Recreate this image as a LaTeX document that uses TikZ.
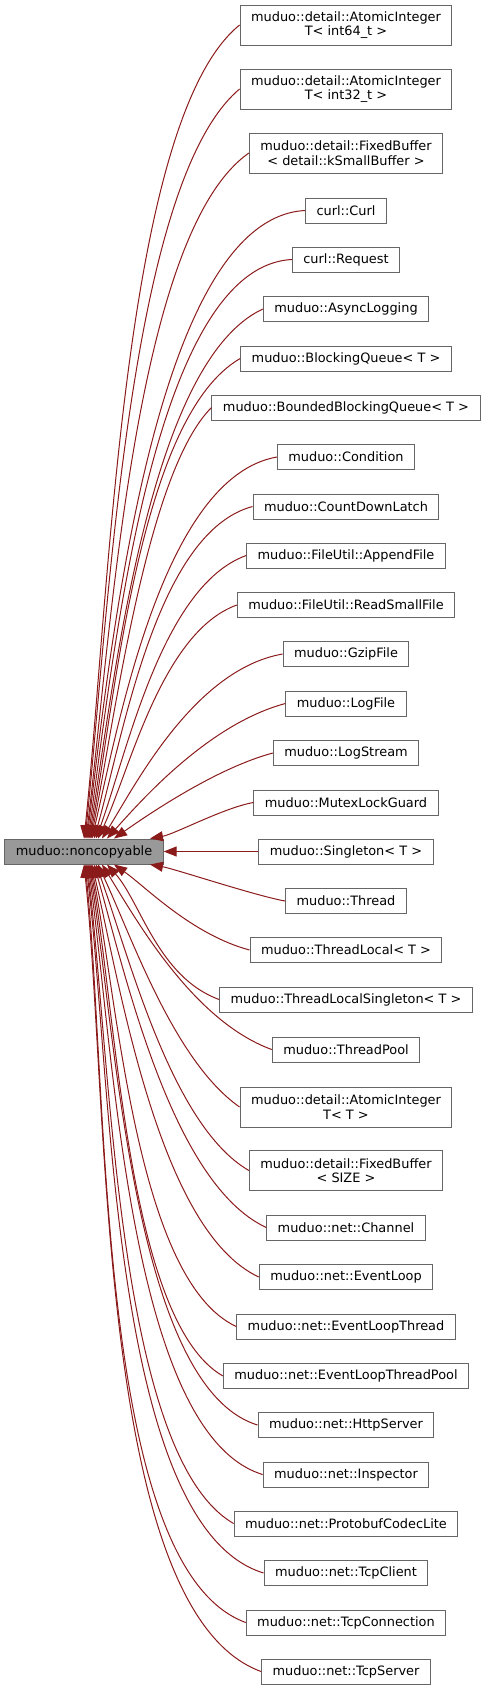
\documentclass[tikz,border=0pt]{standalone}
\usepackage{fontspec}
\setmainfont{DejaVu Sans}
\usepackage{tikz}
\usetikzlibrary{arrows.meta,positioning}
\definecolor{grey40}{HTML}{666666}
\definecolor{grey60}{HTML}{999999}
\definecolor{firebrick4}{HTML}{8B1A1A}

\begin{document}
\begin{tikzpicture}[->, >={Triangle[length=13pt, width=10pt]}, x=1pt, y=1pt,
    every node/.style={font=\fontsize{12.9}{14.5}\selectfont},
    every edge/.style={draw=firebrick4, line width=1pt},
    cls/.style={draw=grey40, line width=1pt, fill=white, inner xsep=11pt,
        minimum height=25pt, align=center},
    twoline/.style={minimum height=40pt},
    root/.style={cls, fill=grey60}
    ]
\useasboundingbox (0,0) rectangle (485,-1690);
% base class
\node[root] (noncopyable) at (84,-851.5) {muduo::noncopyable};

% derived classes, top to bottom
\node[cls, twoline] (atomic64)   at (346,-25)    {muduo::detail::AtomicInteger\\T< int64\_t >};
\node[cls, twoline] (atomic32)   at (346,-89)    {muduo::detail::AtomicInteger\\T< int32\_t >};
\node[cls, twoline] (fixedsmall) at (346,-153)   {muduo::detail::FixedBuffer\\< detail::kSmallBuffer >};
\node[cls] (curl)        at (346,-210.5) {curl::Curl};
\node[cls] (request)     at (346,-259.5) {curl::Request};
\node[cls] (asynclog)    at (346,-309)   {muduo::AsyncLogging};
\node[cls] (blockq)      at (346,-358.5) {muduo::BlockingQueue< T >};
\node[cls] (boundedq)    at (346,-407.5) {muduo::BoundedBlockingQueue< T >};
\node[cls] (condition)   at (346,-457)   {muduo::Condition};
\node[cls] (latch)       at (346,-506.5) {muduo::CountDownLatch};
\node[cls] (appendfile)  at (346,-555.5) {muduo::FileUtil::AppendFile};
\node[cls] (readsmall)   at (346,-605)   {muduo::FileUtil::ReadSmallFile};
\node[cls] (gzipfile)    at (346,-654)   {muduo::GzipFile};
\node[cls] (logfile)     at (346,-703.5) {muduo::LogFile};
\node[cls] (logstream)   at (346,-753)   {muduo::LogStream};
\node[cls] (lockguard)   at (346,-802.5) {muduo::MutexLockGuard};
\node[cls] (singleton)   at (346,-851.5) {muduo::Singleton< T >};
\node[cls] (thread)      at (346,-901)   {muduo::Thread};
\node[cls] (threadlocal) at (346,-950)   {muduo::ThreadLocal< T >};
\node[cls] (tlsingleton) at (346,-999.5) {muduo::ThreadLocalSingleton< T >};
\node[cls] (threadpool)  at (346,-1049.5) {muduo::ThreadPool};
\node[cls, twoline] (atomict)  at (346,-1107)   {muduo::detail::AtomicInteger\\T< T >};
\node[cls, twoline] (fixedsize) at (346,-1170.5) {muduo::detail::FixedBuffer\\< SIZE >};
\node[cls] (channel)     at (346,-1227.5) {muduo::net::Channel};
\node[cls] (eventloop)   at (346,-1277)   {muduo::net::EventLoop};
\node[cls] (loopthread)  at (346,-1326.5) {muduo::net::EventLoopThread};
\node[cls] (looppool)    at (346,-1376)   {muduo::net::EventLoopThreadPool};
\node[cls] (httpserver)  at (346,-1425)   {muduo::net::HttpServer};
\node[cls] (inspector)   at (346,-1474.5) {muduo::net::Inspector};
\node[cls] (codeclite)   at (346,-1523.5) {muduo::net::ProtobufCodecLite};
\node[cls] (tcpclient)   at (346,-1573)   {muduo::net::TcpClient};
\node[cls] (tcpconn)     at (346,-1622.5) {muduo::net::TcpConnection};
\node[cls] (tcpserver)   at (346,-1671.5) {muduo::net::TcpServer};

% inheritance edges into the top of the base
\path
(atomic64.west)   edge [out=219, in=84, out distance=150pt, in distance=250pt] ([xshift=0pt]noncopyable.north)
(atomic32.west)   edge [out=220, in=84, out distance=145pt, in distance=230pt] ([xshift=1pt]noncopyable.north)
(fixedsmall.west) edge [out=215, in=83, out distance=140pt, in distance=210pt] ([xshift=2pt]noncopyable.north)
(curl.west)       edge [out=183, in=83, out distance=150pt, in distance=195pt] ([xshift=3pt]noncopyable.north)
(request.west)    edge [out=183, in=82, out distance=140pt, in distance=180pt] ([xshift=4pt]noncopyable.north)
(asynclog.west)   edge [out=205, in=81, out distance=125pt, in distance=165pt] ([xshift=5pt]noncopyable.north)
(blockq.west)     edge [out=210, in=80, out distance=115pt, in distance=150pt] ([xshift=6pt]noncopyable.north)
(boundedq.west)   edge [out=225, in=79, out distance=90pt, in distance=135pt] ([xshift=7pt]noncopyable.north)
(condition.west)  edge [out=190, in=77, out distance=115pt, in distance=120pt] ([xshift=8pt]noncopyable.north)
(latch.west)      edge [out=195, in=74, out distance=100pt, in distance=105pt] ([xshift=10pt]noncopyable.north)
(appendfile.west) edge [out=200, in=70, out distance=90pt, in distance=90pt] ([xshift=12pt]noncopyable.north)
(readsmall.west)  edge [out=200, in=65, out distance=80pt, in distance=75pt] ([xshift=14pt]noncopyable.north)
(gzipfile.west)   edge [out=190, in=58, out distance=90pt, in distance=62pt] ([xshift=18pt]noncopyable.north)
(logfile.west)    edge [out=195, in=48, out distance=80pt, in distance=50pt] ([xshift=23pt]noncopyable.north)
(logstream.west)  edge [out=195, in=35, out distance=60pt, in distance=38pt] ([xshift=30pt]noncopyable.north)
(lockguard.west)  edge [out=190, in=10, out distance=30pt, in distance=25pt] ([xshift=66pt]noncopyable.north)
;
\path
(singleton) edge (noncopyable)
;
% inheritance edges into the bottom of the base
\path
(thread.west)      edge [out=170, in=-10, out distance=30pt, in distance=25pt] ([xshift=66pt]noncopyable.south)
(threadlocal.west) edge [out=165, in=-35, out distance=60pt, in distance=38pt] ([xshift=30pt]noncopyable.south)
(tlsingleton.west) edge [out=160, in=-48, out distance=65pt, in distance=50pt] ([xshift=23pt]noncopyable.south)
(threadpool.west)  edge [out=160, in=-58, out distance=85pt, in distance=62pt] ([xshift=18pt]noncopyable.south)
(atomict.west)     edge [out=145, in=-65, out distance=80pt, in distance=80pt] ([xshift=14pt]noncopyable.south)
(fixedsize.west)   edge [out=150, in=-70, out distance=90pt, in distance=95pt] ([xshift=12pt]noncopyable.south)
(channel.west)     edge [out=155, in=-74, out distance=105pt, in distance=112pt] ([xshift=10pt]noncopyable.south)
(eventloop.west)   edge [out=155, in=-77, out distance=110pt, in distance=127pt] ([xshift=8pt]noncopyable.south)
(loopthread.west)  edge [out=155, in=-79, out distance=110pt, in distance=142pt] ([xshift=7pt]noncopyable.south)
(looppool.west)    edge [out=150, in=-80, out distance=110pt, in distance=157pt] ([xshift=6pt]noncopyable.south)
(httpserver.west)  edge [out=163, in=-81, out distance=130pt, in distance=172pt] ([xshift=5pt]noncopyable.south)
(inspector.west)   edge [out=163, in=-82, out distance=140pt, in distance=187pt] ([xshift=4pt]noncopyable.south)
(codeclite.west)   edge [out=150, in=-83, out distance=135pt, in distance=200pt] ([xshift=3pt]noncopyable.south)
(tcpclient.west)   edge [out=163, in=-83, out distance=160pt, in distance=215pt] ([xshift=2pt]noncopyable.south)
(tcpconn.west)     edge [out=160, in=-84, out distance=160pt, in distance=230pt] ([xshift=1pt]noncopyable.south)
(tcpserver.west)   edge [out=160, in=-84, out distance=175pt, in distance=245pt] ([xshift=0pt]noncopyable.south)
;
\end{tikzpicture}
\end{document}
